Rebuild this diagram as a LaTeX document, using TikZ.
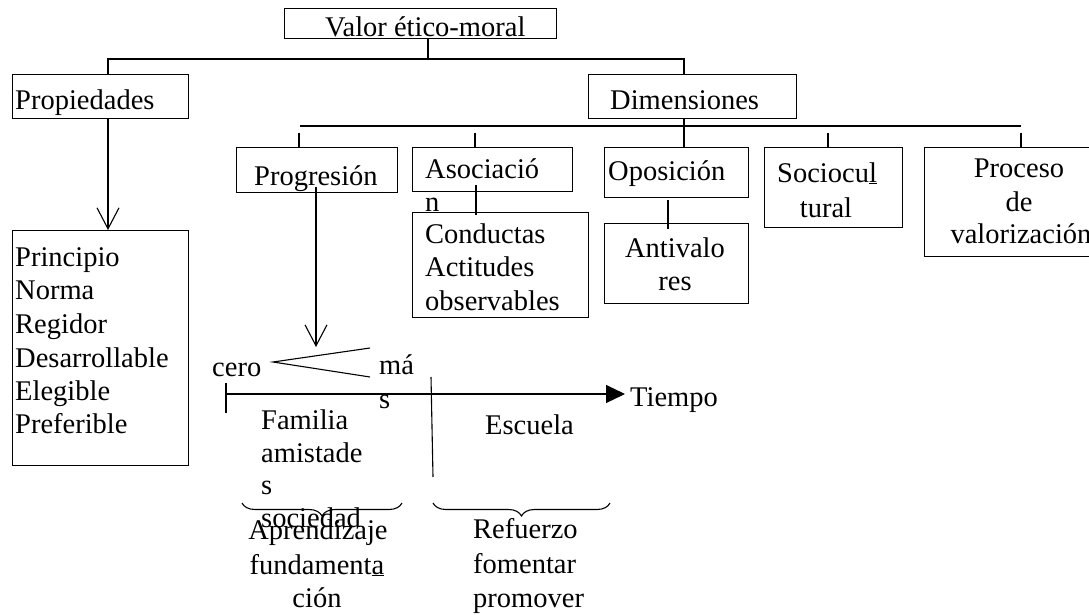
\documentclass[tikz,border=0pt]{standalone}
\usepackage{fontspec}
\setmainfont{Liberation Serif}
\usetikzlibrary{arrows.meta,decorations.pathreplacing}
\tikzset{
  box/.style={draw, line width=1.2pt, inner sep=0pt, anchor=north west},
  txt/.style={inner sep=0pt, anchor=base west},
  ctxt/.style={inner sep=0pt, anchor=base},
  ln/.style={line width=1.1pt},
  barb/.style={-{Straight Barb[length=21pt,width=22pt,line width=1.1pt]}},
  tri/.style={-{Triangle[length=19pt,width=18pt]}},
  brc/.style={decorate, decoration={brace, amplitude=13pt, mirror}, line width=1.1pt}
}
\begin{document}
\begin{tikzpicture}[x=1pt,y=-1pt,font=\fontsize{28.5}{33.5}\selectfont]
\useasboundingbox (0,0) rectangle (1089,615);
\clip (0,0) rectangle (1089,615);
% boxes
\node[box, minimum width=272pt, minimum height=30pt] (valor) at (284,8) {};
\node[box, minimum width=176pt, minimum height=44pt] (prop) at (12,74) {};
\node[box, minimum width=208pt, minimum height=44pt] (dim) at (588,74) {};
\node[box, minimum width=176pt, minimum height=235pt] (princ) at (12,230) {};
\node[box, minimum width=161pt, minimum height=45pt] (prog) at (236,147) {};
\node[box, minimum width=160pt, minimum height=44pt] (asoc) at (412,147) {};
\node[box, minimum width=176pt, minimum height=105pt] (cond) at (412,212) {};
\node[box, minimum width=144pt, minimum height=50pt] (opos) at (604,147) {};
\node[box, minimum width=144pt, minimum height=80pt] (anti) at (604,223) {};
\node[box, minimum width=138pt, minimum height=80pt] (socio) at (764,147) {};
\node[box, minimum width=200pt, minimum height=109pt] (proc) at (924,147) {};
% texts
\node[txt] (tvalor) at (325,37) {Valor ético-moral};
\node[txt] (tprop) at (15,110) {Propiedades};
\node[txt] (tdim) at (610,110) {Dimensiones};
\node[txt] (p1) at (15,266) {Principio};
\node[txt] (p2) at (15,299) {Norma};
\node[txt] (p3) at (15,333) {Regidor};
\node[txt] (p4) at (15,367) {Desarrollable};
\node[txt] (p5) at (15,400) {Elegible};
\node[txt] (p6) at (15,433) {Preferible};
\node[txt] (tprog) at (254,185) {Progresión};
\node[txt] (tasoc) at (425,178) {Asociació};
\node[txt] (tasocn) at (425,211) {n};
\node[txt] (c1) at (425,243) {Conductas};
\node[txt] (c2) at (425,276) {Actitudes};
\node[txt] (c3) at (425,310) {observables};
\node[txt] (topos) at (608,180) {Oposición};
\node[ctxt] (a1) at (675,257) {Antivalo};
\node[ctxt] (a2) at (675,290) {res};
\node[txt] (s1) at (777,182) {Sociocu\underline{l}};
\node[ctxt] (s2) at (826,217) {tural};
\node[ctxt] (r1) at (1019,177) {Proceso};
\node[ctxt] (r2) at (1019,211) {de};
\node[ctxt] (r3) at (1021,243) {valorización};
\node[txt] (tcero) at (212,376) {cero};
\node[txt] (tmas) at (379,374) {má};
\node[txt] (tmass) at (379,408) {s};
\node[txt] (ttiempo) at (630,406) {Tiempo};
\node[txt] (f1) at (261,429) {Familia};
\node[txt] (f2) at (261,462) {amistade};
\node[txt] (f3) at (261,494) {s};
\node[txt] (f4) at (261,527) {sociedad};
\node[txt] (tesc) at (485,434) {Escuela};
\node[ctxt] (ap1) at (318,539) {Aprendizaje};
\node[ctxt] (ap2) at (317,574) {fundament\underline{a}};
\node[ctxt] (ap3) at (317,607) {ción};
\node[txt] (rf1) at (473,538) {Refuerzo};
\node[txt] (rf2) at (473,573) {fomentar};
\node[txt] (rf3) at (473,607) {promover};
% connector coordinates
\coordinate (vb) at (428,38);
\coordinate (pt) at (108,74);
\coordinate (dt) at (684,74);
\coordinate (pb) at (108,118);
\coordinate (prt) at (108,230);
\coordinate (db) at (684,118);
\coordinate (ot) at (684,147);
\coordinate (hl) at (300,126);
\coordinate (hr) at (1021,126);
\coordinate (g1a) at (299,133); \coordinate (g1b) at (299,147);
\coordinate (g2a) at (475,133); \coordinate (g2b) at (475,147);
\coordinate (g4a) at (828,133); \coordinate (g4b) at (828,147);
\coordinate (g5a) at (1021,133); \coordinate (g5b) at (1021,147);
\coordinate (pga) at (316,187); \coordinate (pgb) at (316,347);
\coordinate (asa) at (476,185); \coordinate (asb) at (476,215);
\coordinate (opa) at (668,200); \coordinate (opb) at (668,229);
\coordinate (lu) at (370,348); \coordinate (lap) at (273,362); \coordinate (ld) at (370,377);
\coordinate (t0) at (226,394); \coordinate (t1) at (625,394);
\coordinate (tk0) at (226,383); \coordinate (tk1) at (226,413);
\coordinate (dv0) at (431,377); \coordinate (dv1) at (433,477);
\coordinate (b1a) at (242,503); \coordinate (b1b) at (402,503);
\coordinate (b2a) at (433,503); \coordinate (b2b) at (610,503);
% connectors
\draw[ln] (vb) -- (428,59) -| (pt);
\draw[ln] (428,59) -| (dt);
\draw[ln,barb] (pb) -- (prt);
\draw[ln] (db) -- (ot);
\draw[ln] (hl) -- (hr);
\draw[ln] (g1a) -- (g1b);
\draw[ln] (g2a) -- (g2b);
\draw[ln] (g4a) -- (g4b);
\draw[ln] (g5a) -- (g5b);
\draw[ln,barb] (pga) -- (pgb);
\draw[ln] (asa) -- (asb);
\draw[ln] (opa) -- (opb);
\draw[ln] (lu) -- (lap) -- (ld);
\draw[ln,tri] (t0) -- (t1);
\draw[ln] (tk0) -- (tk1);
\draw[ln] (dv0) -- (dv1);
\draw[brc] (b1a) -- (b1b);
\draw[brc] (b2a) -- (b2b);
\end{tikzpicture}
\end{document}
